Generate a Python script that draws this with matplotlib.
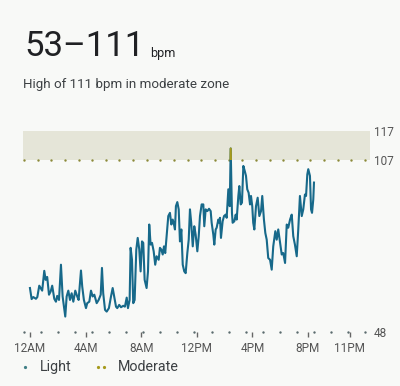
import numpy as np
import matplotlib
matplotlib.use("Agg")
import matplotlib.pyplot as plt
from matplotlib.patches import Rectangle

plt.rcParams['font.family'] = ['Roboto', 'DejaVu Sans']

# heart rate readings over the day (hour of day, bpm)
hours = [0.00, 0.12, 0.24, 0.43, 0.53, 0.67, 0.77, 0.88, 1.03, 1.13, 1.24, 1.37, 1.49, 1.60,
         1.75, 1.87, 1.96, 2.09, 2.23, 2.35, 2.45, 2.54, 2.64, 2.76, 2.88, 3.00, 3.12, 3.26,
         3.40, 3.50, 3.67, 3.76, 3.88, 4.03, 4.12, 4.27, 4.39, 4.51, 4.63, 4.80, 4.94, 5.09,
         5.18, 5.27, 5.40, 5.52, 5.68, 5.83, 5.95, 6.06, 6.19, 6.28, 6.42, 6.55, 6.71, 6.83,
         6.96, 7.05, 7.17, 7.24, 7.34, 7.43, 7.53, 7.65, 7.75, 7.86, 7.96, 8.06, 8.15, 8.25,
         8.39, 8.49, 8.58, 8.68, 8.78, 8.90, 9.01, 9.11, 9.26, 9.35, 9.45, 9.55, 9.64, 9.73,
         9.83, 9.95, 10.07, 10.17, 10.27, 10.36, 10.43, 10.50, 10.60, 10.70, 10.79, 10.89,
         10.99, 11.10, 11.20, 11.32, 11.42, 11.51, 11.60, 11.71, 11.82, 11.92, 12.04, 12.14,
         12.23, 12.35, 12.47, 12.54, 12.64, 12.76, 12.88, 13.00, 13.07, 13.19, 13.26, 13.36,
         13.43, 13.55, 13.62, 13.67, 13.74, 13.86, 13.96, 14.08, 14.15, 14.27, 14.37, 14.44,
         14.53, 14.58, 14.70, 14.80, 14.87, 14.99, 15.06, 15.16, 15.25, 15.35, 15.45, 15.54,
         15.63, 15.73, 15.83, 15.90, 15.99, 16.06, 16.14, 16.26, 16.38, 16.50, 16.62, 16.71,
         16.83, 16.93, 17.03, 17.14, 17.27, 17.39, 17.50, 17.65, 17.75, 17.86, 17.99, 18.11,
         18.22, 18.35, 18.47, 18.58, 18.71, 18.83, 18.94, 19.06, 19.19, 19.30, 19.42, 19.55,
         19.66, 19.78, 19.86, 19.95, 20.02, 20.14, 20.22, 20.29, 20.38, 20.43]
bpm = [63.1, 59.3, 60.0, 59.4, 60.0, 63.9, 63.1, 62.2, 69.0, 65.9, 66.9, 60.8, 61.9, 63.9,
       59.4, 58.4, 60.4, 59.0, 71.1, 60.2, 56.7, 53.3, 60.2, 62.2, 59.0, 61.3, 58.4, 62.2,
       60.2, 59.0, 69.1, 63.6, 59.0, 56.2, 57.9, 58.4, 62.2, 60.2, 60.8, 57.9, 59.0, 60.8,
       70.0, 61.3, 55.6, 55.0, 56.2, 60.2, 63.1, 60.2, 56.7, 56.2, 57.3, 56.5, 57.0, 56.7,
       59.8, 56.2, 59.0, 76.9, 72.8, 57.9, 59.0, 76.3, 80.3, 76.5, 68.8, 79.1, 78.6, 65.9,
       63.1, 68.8, 84.9, 78.0, 78.6, 75.7, 71.1, 74.0, 72.8, 76.9, 76.3, 74.6, 77.4, 75.1,
       80.9, 87.8, 88.9, 84.9, 86.6, 84.9, 83.2, 91.2, 92.6, 90.1, 79.1, 83.2,
       71.1, 68.8, 68.2, 75.1, 79.7, 90.1, 85.5, 77.4, 84.3, 81.4, 75.7, 80.9,
       87.8, 91.8, 91.8, 84.3, 90.1, 89.5, 90.3, 89.5, 85.5, 81.4, 78.0, 83.2,
       83.8, 86.6, 85.5, 87.2, 80.3, 86.0, 87.8, 88.3, 87.2, 97.0, 91.2, 111.0,
       88.9, 85.5, 86.0, 88.3, 86.6, 94.7, 98.1, 91.8, 92.4, 105.0, 103.3, 101.6,
       97.0, 95.8, 91.8, 94.7, 91.2, 85.5, 83.2, 91.2, 94.1, 87.8, 89.5, 94.7,
       86.6, 82.0, 79.7, 73.4, 72.8, 69.4, 77.4, 82.6, 79.7, 83.2, 78.6, 74.6,
       75.1, 71.7, 84.9, 83.8, 86.6, 88.3, 80.9, 78.0, 74.0, 83.2, 94.7, 87.8,
       90.1, 95.2, 94.7, 102.1, 103.9, 101.6, 90.1, 88.9, 93.5, 99.3]

tick_hours = [0, 4, 8, 12, 16, 20, 23]
tick_labels = ['12AM', '4AM', '8AM', '12PM', '4PM', '8PM', '11PM']
zone_ticks = [48, 107, 117]

bg = '#f8f9f7'
line_col = '#17698a'
mod_col = '#a69a1c'
light_col = '#3f7f86'
txt = '#3c4043'

fig = plt.figure(figsize=(4, 3.86), dpi=100, facecolor=bg)
ax = fig.add_axes([0.0575, 0.1399, 0.8675, 0.5207])
ax.set_facecolor(bg)
ax.set_xlim(-0.5, 24.46)
ax.set_ylim(48, 117)

# moderate zone band
ax.axhspan(107, 117, color='#e5e5d8', lw=0, zorder=0)

# dotted zone lines
ax.scatter(np.linspace(-0.43, 24.1, 26), [107] * 26, s=3, color='#8c8a3a', lw=0, zorder=1)
ax.scatter(np.linspace(-0.43, 24.1, 21), [48] * 21, s=3, color='#5b6b6e', lw=0, zorder=1,
           clip_on=False)

ax.plot(hours, bpm, color=line_col, lw=1.5, zorder=3, solid_joinstyle='round')
top, = ax.plot(hours, bpm, color=mod_col, lw=1.5, zorder=4)
top.set_clip_path(Rectangle((-1, 107), 30, 20, transform=ax.transData))

for s in ax.spines.values():
    s.set_visible(False)

ax.set_xticks(tick_hours)
ax.set_xticklabels(tick_labels)
ax.tick_params(axis='x', length=3.5, width=1, color='#666666', pad=4,
               labelsize=8.5, labelcolor='#555555')
ax.yaxis.tick_right()
ax.set_yticks(zone_ticks)
ax.set_yticklabels([str(v) for v in zone_ticks])
ax.tick_params(axis='y', length=0, pad=3, labelsize=8.5, labelcolor='#555555')

fig.text(24 / 400, 1 - 56 / 386, '53\u2013111', fontsize=25, color='#202124', va='baseline')
fig.text(150 / 400, 1 - 57 / 386, 'bpm', fontsize=9, color='#202124', va='baseline')
fig.text(23 / 400, 1 - 88 / 386, 'High of 111 bpm in moderate zone', fontsize=9.6,
         color=txt, va='baseline')

# legend
fig.add_artist(plt.Line2D([25 / 400], [1 - 367 / 386], marker='o', ms=1.3, color=light_col, lw=0))
fig.add_artist(plt.Line2D([98 / 400, 104 / 400], [1 - 367 / 386] * 2, marker='o', ms=1.3,
                          color=mod_col, lw=0))
fig.text(40 / 400, 1 - 371 / 386, 'Light', fontsize=10.3, color=txt, va='baseline')
fig.text(118 / 400, 1 - 371 / 386, 'Moderate', fontsize=10.3, color=txt, va='baseline')

fig.savefig('out.png', dpi=100, facecolor=bg)
